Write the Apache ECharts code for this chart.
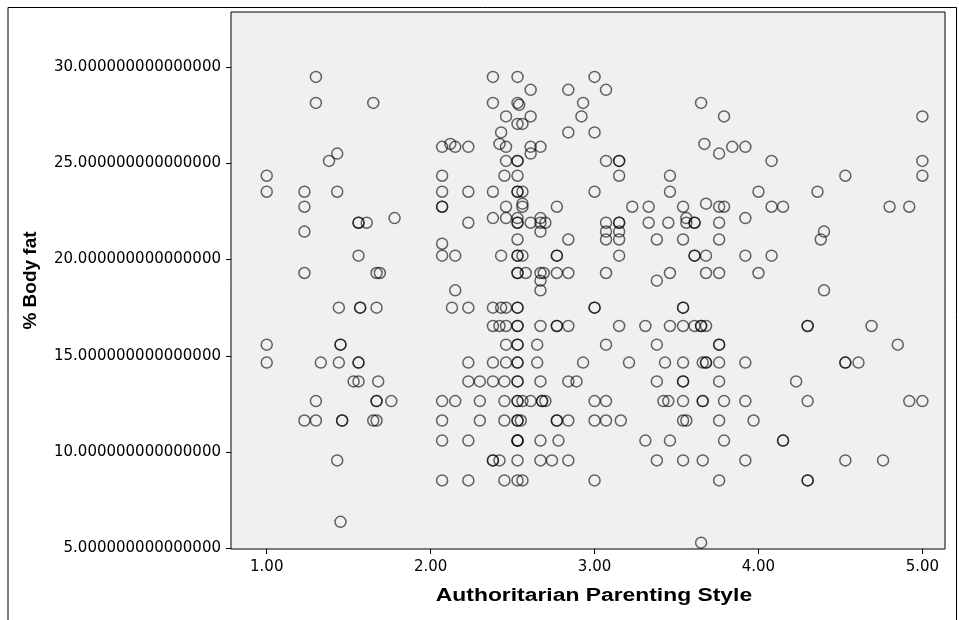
<!DOCTYPE html>
<html>
<head>
<meta charset="utf-8">
<script src="https://cdn.jsdelivr.net/npm/echarts@6/dist/echarts.min.js"></script>
<style>
html,body{margin:0;padding:0;background:#fff;}
#chart{width:959px;height:620px;}
</style>
</head>
<body>
<div id="chart"></div>
<script>
// % Body fat levels (rows) and the Authoritarian Parenting Style scores observed at each level
const bodyFatLevels = [29.48, 28.81, 28.13, 28.03, 27.43, 27.04, 26.6, 26.0, 25.85, 25.5, 25.12, 24.35, 23.52, 22.9, 22.74, 22.15, 21.91, 21.45, 21.04, 20.82, 20.2, 19.3, 18.9, 18.4, 17.5, 16.55, 15.58, 14.65, 13.67, 12.65, 11.64, 10.6, 9.57, 8.53, 6.38, 5.3];
const styleRow_29_48 = [1.30, 2.38, 2.53, 3.00];
const styleRow_28_81 = [2.61, 2.84, 3.07];
const styleRow_28_13 = [1.30, 1.65, 2.38, 2.53, 2.93, 3.65];
const styleRow_28_03 = [2.54];
const styleRow_27_43 = [2.46, 2.61, 2.92, 3.79, 5.00];
const styleRow_27_04 = [2.53, 2.56];
const styleRow_26_6 = [2.43, 2.84, 3.00];
const styleRow_26_0 = [2.12, 2.42, 3.67];
const styleRow_25_85 = [2.07, 2.15, 2.23, 2.46, 2.61, 2.67, 3.84, 3.92];
const styleRow_25_5 = [1.43, 2.61, 3.76];
const styleRow_25_12 = [1.38, 2.46, 2.53, 2.53, 3.07, 3.15, 3.15, 4.08, 5.00];
const styleRow_24_35 = [1.00, 2.07, 2.45, 2.53, 3.15, 3.46, 4.53, 5.00];
const styleRow_23_52 = [1.00, 1.23, 1.43, 2.07, 2.23, 2.38, 2.53, 2.53, 2.56, 3.00, 3.46, 4.00, 4.36];
const styleRow_22_9 = [2.56, 3.68];
const styleRow_22_74 = [1.23, 2.07, 2.07, 2.46, 2.56, 2.77, 3.23, 3.33, 3.54, 3.76, 3.79, 4.08, 4.15, 4.80, 4.92];
const styleRow_22_15 = [1.78, 2.38, 2.46, 2.53, 2.67, 3.56, 3.92];
const styleRow_21_91 = [1.56, 1.56, 1.61, 2.23, 2.53, 2.53, 2.61, 2.67, 2.70, 3.07, 3.15, 3.15, 3.33, 3.45, 3.56, 3.61, 3.61, 3.76];
const styleRow_21_45 = [1.23, 2.67, 3.07, 3.15, 4.40];
const styleRow_21_04 = [2.53, 2.84, 3.07, 3.15, 3.38, 3.54, 3.76, 4.38];
const styleRow_20_82 = [2.07];
const styleRow_20_2 = [1.56, 2.07, 2.15, 2.43, 2.53, 2.53, 2.56, 2.77, 2.77, 3.15, 3.61, 3.61, 3.68, 3.92, 4.08];
const styleRow_19_3 = [1.23, 1.67, 1.69, 2.53, 2.53, 2.58, 2.67, 2.69, 2.77, 2.84, 3.07, 3.46, 3.68, 3.76, 4.00];
const styleRow_18_9 = [2.67, 3.38];
const styleRow_18_4 = [2.15, 2.67, 4.40];
const styleRow_17_5 = [1.44, 1.57, 1.57, 1.67, 2.13, 2.23, 2.38, 2.43, 2.46, 2.53, 2.53, 3.00, 3.00, 3.54, 3.54];
const styleRow_16_55 = [2.38, 2.42, 2.46, 2.53, 2.53, 2.67, 2.77, 2.77, 2.84, 3.15, 3.31, 3.46, 3.54, 3.61, 3.65, 3.65, 3.68, 4.30, 4.30, 4.69];
const styleRow_15_58 = [1.00, 1.45, 1.45, 2.46, 2.53, 2.53, 2.65, 3.07, 3.38, 3.76, 3.76, 4.85];
const styleRow_14_65 = [1.00, 1.33, 1.44, 1.56, 1.56, 2.23, 2.38, 2.46, 2.53, 2.53, 2.65, 2.93, 3.21, 3.43, 3.54, 3.66, 3.68, 3.68, 3.76, 3.92, 4.53, 4.53, 4.61];
const styleRow_13_67 = [1.53, 1.56, 1.68, 2.23, 2.30, 2.38, 2.45, 2.53, 2.53, 2.67, 2.84, 2.89, 3.38, 3.54, 3.54, 3.76, 4.23];
const styleRow_12_65 = [1.30, 1.67, 1.67, 1.76, 2.07, 2.15, 2.30, 2.45, 2.53, 2.53, 2.56, 2.61, 2.68, 2.68, 2.70, 3.00, 3.07, 3.42, 3.45, 3.54, 3.66, 3.66, 3.79, 3.92, 4.30, 4.92, 5.00];
const styleRow_11_64 = [1.23, 1.30, 1.46, 1.46, 1.65, 1.67, 2.07, 2.30, 2.45, 2.53, 2.53, 2.55, 2.77, 2.77, 2.84, 3.00, 3.07, 3.16, 3.54, 3.56, 3.76, 3.97];
const styleRow_10_6 = [2.07, 2.23, 2.53, 2.53, 2.53, 2.67, 2.78, 3.31, 3.46, 3.79, 4.15, 4.15];
const styleRow_9_57 = [1.43, 2.38, 2.38, 2.42, 2.53, 2.67, 2.74, 2.84, 3.38, 3.54, 3.66, 3.92, 4.53, 4.76];
const styleRow_8_53 = [2.07, 2.23, 2.45, 2.53, 2.56, 3.00, 3.76, 4.30, 4.30];
const styleRow_6_38 = [1.45];
const styleRow_5_3 = [3.65];

const styleRows = [styleRow_29_48, styleRow_28_81, styleRow_28_13, styleRow_28_03, styleRow_27_43, styleRow_27_04, styleRow_26_6, styleRow_26_0, styleRow_25_85, styleRow_25_5, styleRow_25_12, styleRow_24_35, styleRow_23_52, styleRow_22_9, styleRow_22_74, styleRow_22_15, styleRow_21_91, styleRow_21_45, styleRow_21_04, styleRow_20_82, styleRow_20_2, styleRow_19_3, styleRow_18_9, styleRow_18_4, styleRow_17_5, styleRow_16_55, styleRow_15_58, styleRow_14_65, styleRow_13_67, styleRow_12_65, styleRow_11_64, styleRow_10_6, styleRow_9_57, styleRow_8_53, styleRow_6_38, styleRow_5_3];

const xTickValues = [1, 2, 3, 4, 5];
const yTickValues = [5, 10, 15, 20, 25, 30];
const xTitle = 'Authoritarian Parenting Style';
const yTitle = '% Body fat';

const points = [];
bodyFatLevels.forEach(function (bf, i) {
  styleRows[i].forEach(function (s) { points.push([s, bf]); });
});

const chart = echarts.init(document.getElementById('chart'), null, {renderer: 'canvas'});
const labelFont = {color: '#000', fontFamily: '"DejaVu Sans", sans-serif', fontSize: 15};
chart.setOption({
  animation: false,
  backgroundColor: '#ffffff',
  grid: {left: 231, top: 12, right: 14, bottom: 71, show: true, backgroundColor: '#f0f0f0', borderColor: '#000', borderWidth: 1},
  xAxis: {
    type: 'value', min: 0.782, max: 5.138,
    splitLine: {show: false},
    axisLine: {show: false},
    axisTick: {show: true, customValues: xTickValues, length: 5, lineStyle: {color: '#000'}},
    axisLabel: Object.assign({customValues: xTickValues, margin: 11, formatter: function (v) { return v.toFixed(2); }}, labelFont)
  },
  yAxis: {
    type: 'value', min: 4.97, max: 32.85,
    splitLine: {show: false},
    axisLine: {show: false},
    axisTick: {show: true, customValues: yTickValues, length: 5, lineStyle: {color: '#000'}},
    axisLabel: Object.assign({customValues: yTickValues, margin: 10, formatter: function (v) { return v.toFixed(15); }}, labelFont),
    name: yTitle, nameLocation: 'middle', nameGap: 191, nameRotate: 90,
    nameTextStyle: {color: '#000', fontFamily: 'Arial, "Liberation Sans", sans-serif', fontSize: 19, fontWeight: 'bold'}
  },
  series: [{
    type: 'scatter',
    data: points,
    symbol: 'circle',
    symbolSize: 11,
    itemStyle: {color: 'rgba(0,0,0,0)', borderColor: 'rgba(0,0,0,0.75)', borderWidth: 1.5}
  }],
  graphic: [{
    type: 'polyline', silent: true,
    shape: {points: [[8, 640], [8, 7.5], [956.5, 7.5], [956.5, 640]]},
    style: {stroke: '#000', lineWidth: 1, fill: null}
  }, {
    type: 'text', silent: true,
    x: 594, y: 596, scaleX: 1.27, scaleY: 1,
    style: {text: xTitle, fill: '#000', font: 'bold 18px Arial, "Liberation Sans", sans-serif', align: 'center', verticalAlign: 'middle'}
  }]
});
</script>
</body>
</html>
